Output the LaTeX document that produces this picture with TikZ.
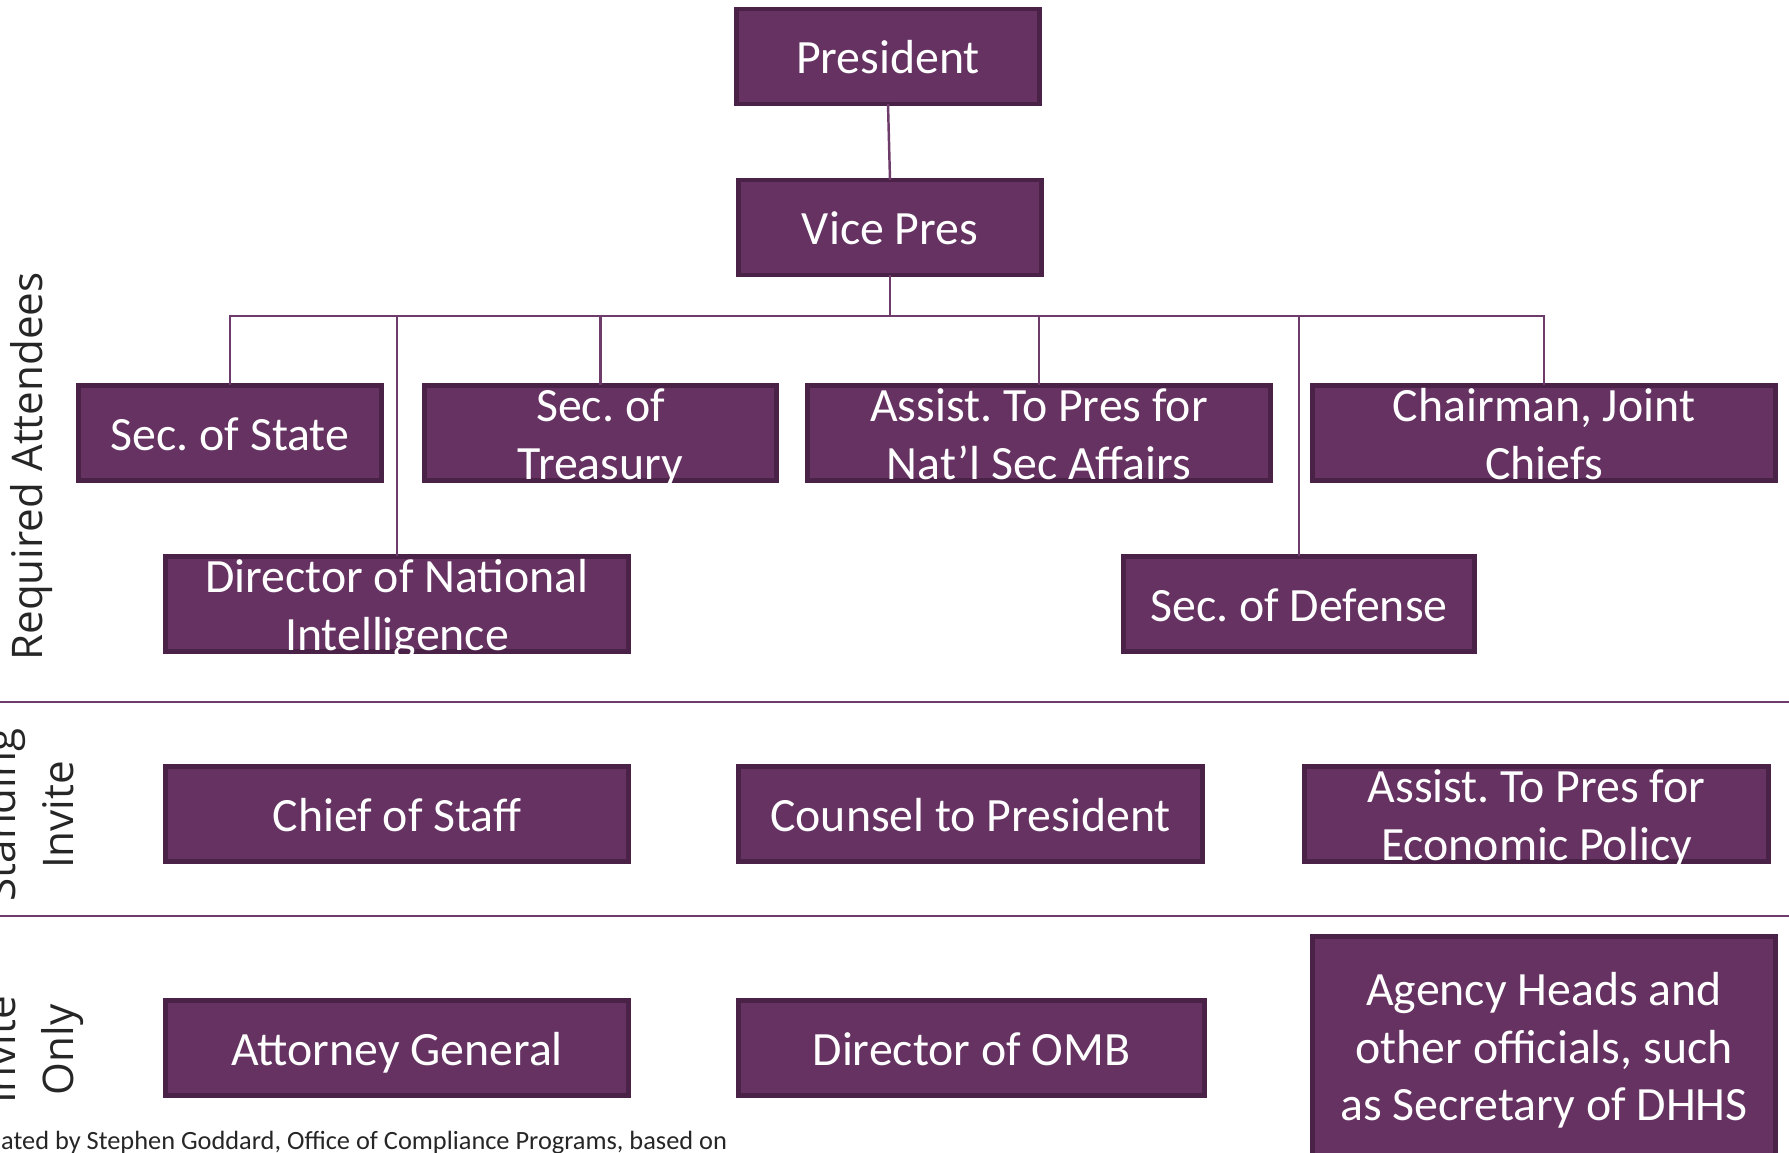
\documentclass[tikz,border=0pt]{standalone}
\usepackage{fontspec}
\setmainfont{Carlito}
\newfontfamily\rowfont{Open Sans}
\frenchspacing
\definecolor{plum}{RGB}{101,50,98}
\definecolor{plumedge}{RGB}{74,33,71}
\definecolor{plumline}{RGB}{110,60,106}
\tikzset{
  post/.style={draw=plumedge, fill=plum, line width=1.4pt, text=white, align=center,
    minimum height=0.95cm, inner xsep=0pt, inner ysep=-5pt, outer sep=0pt,
    font=\fontsize{13.6}{16.4}\selectfont, text height=13.2pt, text depth=3.4pt},
  twolines/.style={text height=29.6pt},
  threelines/.style={text height=46pt},
  link/.style={draw=plumline, line width=0.7pt},
  rowname/.style={rotate=90, inner sep=0pt, align=center, text=black!85,
    font=\rowfont\fontsize{12}{16.5}\selectfont}
}

\begin{document}
\begin{tikzpicture}
  \useasboundingbox (0,0) rectangle (17.89,-11.53);

  \draw[link] (0,-7.02) -- (17.89,-7.02);
  \draw[link] (0,-9.16) -- (17.89,-9.16);

  \node[rowname, anchor=base] (required) at (0.43,-4.665) {Required Attendees};
  \node[rowname, anchor=south] (standing) at (0.75,-8.15) {Standing\\Invite};
  \node[rowname, anchor=south] (inviteonly) at (0.84,-10.50) {Invite\\Only};

  \node[post, minimum width=3.03cm] (pres) at (8.88,-0.565) {President};
  \node[post, minimum width=3.03cm] (vice) at (8.90,-2.275) {Vice Pres};

  \node[post, minimum width=3.03cm] (state) at (2.30,-4.33) {Sec. of State};
  \node[post, twolines, minimum width=3.52cm] (treas) at (6.005,-4.33) {Sec. of\\Treasury};
  \node[post, twolines, minimum width=4.63cm] (natsec) at (10.39,-4.33) {Assist. To Pres for\\Nat’l Sec Affairs};
  \node[post, twolines, minimum width=4.63cm] (chair) at (15.44,-4.33) {Chairman, Joint\\Chiefs};
  \node[post, twolines, minimum width=4.63cm] (dni) at (3.97,-6.04) {Director of National\\Intelligence};
  \node[post, minimum width=3.51cm] (defense) at (12.99,-6.04) {Sec. of Defense};

  \node[post, minimum width=4.63cm] (chief) at (3.97,-8.14) {Chief of Staff};
  \node[post, minimum width=4.64cm] (counsel) at (9.705,-8.14) {Counsel to President};
  \node[post, twolines, minimum width=4.64cm] (econ) at (15.365,-8.14) {Assist. To Pres for\\Economic Policy};

  \node[post, minimum width=4.63cm] (attorney) at (3.97,-10.48) {Attorney General};
  \node[post, minimum width=4.66cm] (omb) at (9.715,-10.48) {Director of OMB};
  \node[post, threelines, minimum width=4.63cm, minimum height=2.19cm] (agency) at (15.44,-10.46)
    {Agency Heads and\\other officials, such\\as Secretary of DHHS};

  \coordinate (bus) at (8.90,-3.16);
  \draw[link] (pres.south) -- (vice.north);
  \draw[link] (vice.south) -- (bus);
  \foreach \n in {state,dni,treas,natsec,defense,chair}
    \draw[link] (bus) -| (\n.north);

  \node[anchor=base west, inner sep=0pt, text=black!85, font=\fontsize{7.5}{9}\selectfont]
    (credit) at (0.005,-11.495) {ated by Stephen Goddard, Office of Compliance Programs, based on};
\end{tikzpicture}
\end{document}
